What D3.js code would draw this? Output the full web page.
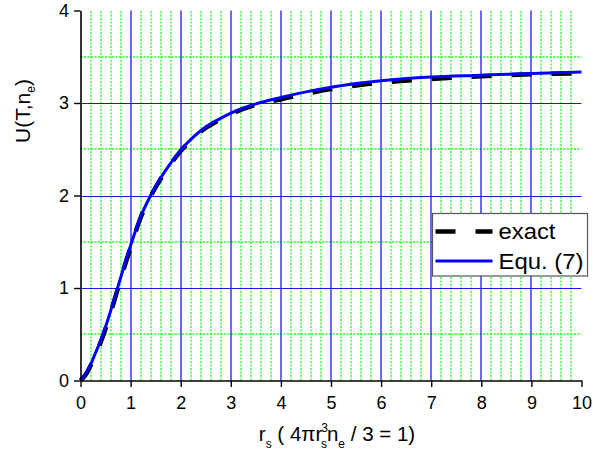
<!DOCTYPE html>
<html lang="en">
<head>
<meta charset="utf-8">
<title>U(T,ne) vs rs</title>
<script src="https://cdn.jsdelivr.net/npm/d3@7"></script>
<style>
  body { margin: 0; padding: 0; background: #fff; }
  svg { display: block; font-family: "Liberation Sans", Arial, sans-serif; }
</style>
</head>
<body>
<svg id="chart" width="593" height="455"></svg>
<script>
// rs values and the two curves
const rsEq = [0, 0.1, 0.2, 0.3, 0.4, 0.5, 0.6, 0.7, 0.8, 0.9, 1.0, 1.2, 1.4, 1.6, 1.8, 2.0, 2.25, 2.5, 2.75, 3.0, 3.5, 4.0, 4.5, 5, 6, 7, 8, 9, 10];
const uEq  = [0, 0.07, 0.17, 0.30, 0.43, 0.58, 0.75, 0.93, 1.11, 1.29, 1.46, 1.77, 2.0, 2.19, 2.35, 2.49, 2.63, 2.74, 2.82, 2.89, 2.99, 3.06, 3.12, 3.17, 3.24, 3.28, 3.30, 3.32, 3.335];
const rsExact = [0, 0.1, 0.2, 0.3, 0.4, 0.5, 0.6, 0.7, 0.8, 0.9, 1.0, 1.2, 1.4, 1.6, 1.8, 2.0, 2.25, 2.5, 2.75, 3.0, 3.5, 4.0, 4.5, 5, 6, 7, 8, 9, 10];
const uExact  = [0, 0.06, 0.16, 0.28, 0.41, 0.56, 0.73, 0.91, 1.09, 1.27, 1.44, 1.76, 1.99, 2.18, 2.34, 2.48, 2.62, 2.73, 2.81, 2.88, 2.98, 3.04, 3.10, 3.15, 3.22, 3.26, 3.29, 3.31, 3.32];
const xTicks = [0, 1, 2, 3, 4, 5, 6, 7, 8, 9, 10];
const yTicks = [0, 1, 2, 3, 4];
const legendLabels = ["exact", "Equ. (7)"];

const svg = d3.select("#chart");
const x = d3.scaleLinear().domain([0, 10]).range([80.5, 581.5]);
const y = d3.scaleLinear().domain([0, 4]).range([380.5, 10.5]);

const xMinor = d3.range(0, 10.001, 0.2).map(v => +v.toFixed(1));
const yMinor = d3.range(0, 4.001, 0.5);

// grid: minor green dotted, major blue
const green = "#22ff22";
const grid = svg.append("g");
grid.selectAll(".vmin").data(xMinor.filter(v => v % 1 !== 0 && v < 10)).join("line")
  .attr("x1", d => Math.round(x(d))).attr("x2", d => Math.round(x(d)))
  .attr("y1", y(0)).attr("y2", y(4))
  .attr("stroke", green).attr("stroke-width", 1.3).attr("stroke-dasharray", "2,1.5");
grid.selectAll(".hmin").data(yMinor.filter(v => v % 1 !== 0)).join("line")
  .attr("x1", x(0)).attr("x2", x(10))
  .attr("y1", d => Math.round(y(d))).attr("y2", d => Math.round(y(d)))
  .attr("stroke", green).attr("stroke-width", 1.3).attr("stroke-dasharray", "2,1.5");
grid.selectAll(".vmaj").data(xTicks.filter(v => v > 0 && v < 10)).join("line")
  .attr("x1", d => Math.round(x(d))).attr("x2", d => Math.round(x(d)))
  .attr("y1", y(0)).attr("y2", y(4))
  .attr("stroke", "#2a2aff").attr("stroke-width", 1.4);
grid.selectAll(".hmaj").data(yTicks.filter(v => v > 0 && v < 4)).join("line")
  .attr("x1", x(0)).attr("x2", x(10))
  .attr("y1", d => Math.round(y(d)) + 0.5).attr("y2", d => Math.round(y(d)) + 0.5)
  .attr("stroke", "#1a1ae6").attr("stroke-width", 1.2);

// curves
const line = (xs, ys) => d3.line().curve(d3.curveMonotoneX)
  .x((d, i) => x(xs[i])).y((d, i) => y(ys[i]))(xs);

svg.append("path").attr("d", line(rsExact, uExact))
  .attr("fill", "none").attr("stroke", "#000").attr("stroke-width", 4.5)
  .attr("stroke-dasharray", "20,20");
svg.append("path").attr("d", line(rsEq, uEq))
  .attr("fill", "none").attr("stroke", "#0000ff").attr("stroke-width", 3);

// axes
const xAxis = svg.append("g").attr("transform", `translate(0,${y(0)})`);
xAxis.call(d3.axisBottom(x).tickValues(xMinor).tickSize(4).tickSizeOuter(0).tickFormat(""));
xAxis.call(d3.axisBottom(x).tickValues(xTicks).tickSize(6.5).tickSizeOuter(0).tickPadding(9).tickFormat(d3.format("d")));
const yAxis = svg.append("g").attr("transform", `translate(${x(0)},0)`);
yAxis.call(d3.axisLeft(y).tickValues(yMinor).tickSize(4).tickSizeOuter(0).tickFormat(""));
yAxis.call(d3.axisLeft(y).tickValues(yTicks).tickSize(6.5).tickSizeOuter(0).tickPadding(5).tickFormat(d3.format("d")));
svg.selectAll(".domain").attr("stroke", "#000").attr("stroke-width", 1.6);
svg.selectAll(".tick line").attr("stroke", "#000").attr("stroke-width", 1.4);
svg.selectAll(".tick text").attr("font-size", 18).attr("fill", "#000")
  .attr("font-family", "'Liberation Sans', Arial, sans-serif");

// axis titles
const xt = svg.append("text").attr("x", 337).attr("y", 441).attr("text-anchor", "middle")
  .attr("font-size", 20.5).attr("fill", "#000");
xt.append("tspan").text("r");
xt.append("tspan").attr("font-size", 12).attr("dy", 7).text("s");
xt.append("tspan").attr("dy", -7).text(" ( 4\u03c0r");
xt.append("tspan").attr("font-size", 12).attr("dx", -1).attr("dy", -9).text("3");
xt.append("tspan").attr("font-size", 12).attr("dx", -7).attr("dy", 16).text("s");
xt.append("tspan").attr("dy", -7).text("n");
xt.append("tspan").attr("font-size", 12).attr("dy", 7).text("e");
xt.append("tspan").attr("dy", -7).text(" / 3 = 1)");

const yt = svg.append("text").attr("transform", "translate(30,111) rotate(-90)")
  .attr("text-anchor", "middle").attr("font-size", 21).attr("fill", "#000");
yt.append("tspan").text("U(T,n");
yt.append("tspan").attr("font-size", 12).attr("dy", 5).text("e");
yt.append("tspan").attr("dy", -5).text(")");

// legend
const lg = svg.append("g").attr("transform", "translate(432.5,213.5)");
lg.append("rect").attr("width", 155).attr("height", 62.5)
  .attr("fill", "#fff").attr("stroke", "#555").attr("stroke-width", 1.2);
const items = lg.selectAll(".item").data(legendLabels).join("g")
  .attr("transform", (d, i) => `translate(0,${18 + i * 29.5})`);
items.append("line").attr("x1", 3).attr("x2", 60).attr("y1", 0).attr("y2", 0)
  .attr("stroke", (d, i) => i === 0 ? "#000" : "#0000ff")
  .attr("stroke-width", (d, i) => i === 0 ? 4.5 : 3)
  .attr("stroke-dasharray", (d, i) => i === 0 ? "20,20" : null);
items.append("text").attr("x", 66).attr("y", 7.5).attr("font-size", 21.5).attr("fill", "#000")
  .attr("textLength", (d, i) => i === 0 ? 57 : 85).attr("lengthAdjust", "spacingAndGlyphs")
  .text(d => d);
</script>
</body>
</html>
